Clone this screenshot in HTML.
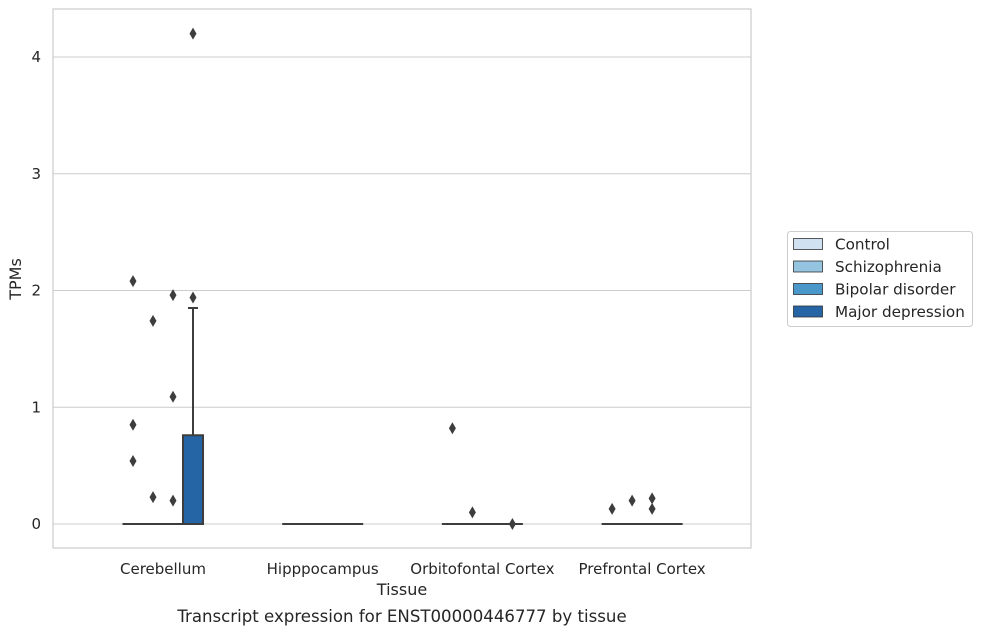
<!DOCTYPE html>
<html><head><meta charset="utf-8"><style>
body{margin:0;background:#fff;font-family:"Liberation Sans","DejaVu Sans",sans-serif;}
svg text{font-family:"DejaVu Sans","Liberation Sans",sans-serif;fill:#262626;}
</style></head><body>
<svg id="chart" width="983" height="634" xmlns="http://www.w3.org/2000/svg"></svg>
<script>
const categories=["Cerebellum","Hipppocampus","Orbitofontal Cortex","Prefrontal Cortex"];
const hues=["Control","Schizophrenia","Bipolar disorder","Major depression"];
const colors=["#d0e1f2","#94c4df","#4a98c9","#2565a5"];
const yTicks=[0,1,2,3,4];
// box stats [cat][hue] = [q1, q3, whiskerLow, whiskerHigh]
const boxStats=[
 [[0,0,0,0],[0,0,0,0],[0,0,0,0],[0,0.76,0,1.85]],
 [[0,0,0,0],[0,0,0,0],[0,0,0,0],[0,0,0,0]],
 [[0,0,0,0],[0,0,0,0],[0,0,0,0],[0,0,0,0]],
 [[0,0,0,0],[0,0,0,0],[0,0,0,0],[0,0,0,0]]
];
// outliers [cat][hue] = values
const outliers=[
 [[2.08,0.85,0.54],[1.74,0.23],[1.96,1.09,0.20],[4.2,1.94]],
 [[],[],[],[]],
 [[0.82],[0.10],[],[0.0]],
 [[0.13],[0.20],[0.22,0.13],[]]
];
const NS="http://www.w3.org/2000/svg";
const svg=document.getElementById('chart');
const L=53,R=751,T=9,B=548;
const y=v=>524-v*116.75;
const xc=i=>163+i*159.7;
const xh=(i,h)=>xc(i)-30+h*20;
function mk(t,a,p){const e=document.createElementNS(NS,t);for(const k in a)e.setAttribute(k,a[k]);(p||svg).appendChild(e);return e;}
yTicks.forEach(t=>{
 const g=mk('line',{x1:L,x2:R,y1:y(t),y2:y(t),stroke:'#cccccc','stroke-width':1});
 
 
 const tx=mk('text',{x:L-12,y:y(t)+5,'text-anchor':'end','font-size':15});
 tx.textContent=t;
 
 
});
const frame=mk('rect',{x:L,y:T,width:R-L,height:B-T,fill:'none',stroke:'#cccccc','stroke-width':1.2});


categories.forEach((c,i)=>{
 const tx=mk('text',{x:xc(i),y:574,'text-anchor':'middle','font-size':15});
 tx.textContent=c;
 
 
 hues.forEach((h,j)=>{
  const s=boxStats[i][j];const cx=xh(i,j);
  if(s[3]>s[1]){
   const w=mk('line',{x1:cx,x2:cx,y1:y(s[1]),y2:y(s[3]),stroke:'#3d3d3d','stroke-width':2});
   
   
   const cap=mk('line',{x1:cx-5,x2:cx+5,y1:y(s[3]),y2:y(s[3]),stroke:'#3d3d3d','stroke-width':2});
   
   
  }
  const hgt=y(s[0])-y(s[1]);
  let r;
  if(hgt>0.5){
   r=mk('rect',{x:cx-10,y:y(s[1]),width:20,height:hgt,fill:colors[j],stroke:'#3d3d3d','stroke-width':2});
  } else {
   r=mk('line',{x1:cx-10.5,x2:cx+10.5,y1:y(s[0]),y2:y(s[0]),stroke:'#3d3d3d','stroke-width':2});
  }
  
  
  outliers[i][j].forEach(v=>{
   const py=y(v);
   const d=mk('polygon',{points:`${cx},${py-6} ${cx+3.5},${py} ${cx},${py+6} ${cx-3.5},${py}`,fill:'#3d3d3d'});
   
   
  });
 });
});
const xt=mk('text',{x:402,y:595,'text-anchor':'middle','font-size':16});xt.textContent='Tissue';

const yt=mk('text',{x:21,y:279,'text-anchor':'middle','font-size':16,transform:'rotate(-90 21 279)'});yt.textContent='TPMs';

const ct=mk('text',{x:402,y:622,'text-anchor':'middle','font-size':16.6});ct.textContent='Transcript expression for ENST00000446777 by tissue';

const lg=mk('rect',{x:787.5,y:231.5,width:185,height:95,rx:3,fill:'#fff',stroke:'#cccccc'});

hues.forEach((h,j)=>{
 const yy=238+j*22.5;
 const s=mk('rect',{x:793.5,y:yy+0.5,width:29,height:11,fill:colors[j],stroke:'#333','stroke-width':0.8});
 
 const t=mk('text',{x:835,y:yy+11.5,'font-size':15.2});t.textContent=h;
 
});
</script>
</body></html>
